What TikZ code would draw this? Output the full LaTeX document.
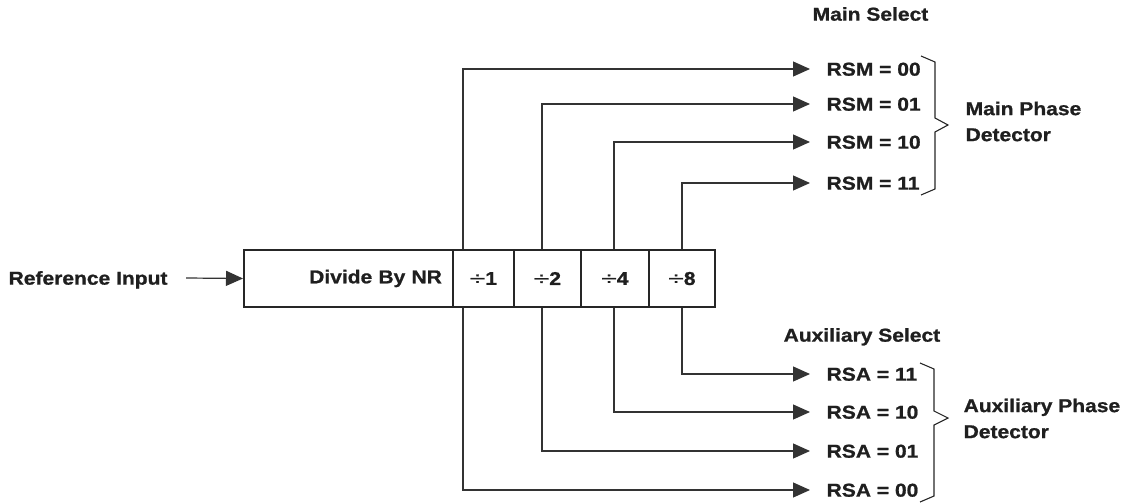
\documentclass[tikz,border=0pt]{standalone}
\usepackage{fontspec}
\setmainfont{Liberation Sans}[FakeStretch=1.13]
\newfontfamily\heavyfont{Liberation Sans}[FakeStretch=1.13,FakeBold=1,BoldFont={Liberation Sans Bold},BoldFeatures={FakeStretch=1.13,FakeBold=1}]
\usetikzlibrary{arrows.meta}
\begin{document}
\begin{tikzpicture}[x=1pt,y=-1pt,
  line width=1.3pt,
  txt/.style={font=\fontsize{18.6}{26}\selectfont\heavyfont\bfseries, text=black!88, inner sep=0pt, text height=13.3pt, text depth=0pt},
  cell/.style={draw=black!85, line width=1.8pt, minimum height=57pt, inner sep=0pt, text=black!88, font=\fontsize{18.6}{26}\selectfont\heavyfont\bfseries},
  arr/.style={-{Triangle[length=17pt,width=15pt]}, line width=1.2pt, draw=black!80},
  brace/.style={line width=1.1pt, draw=black!85}]
\useasboundingbox (0,0) rectangle (1129,503);
% main box
\node[cell, minimum width=209pt, anchor=west, text width=187pt, align=right] (nr) at (243,278.5) {Divide By NR};
\node[cell, minimum width=61pt, anchor=west] (d1) at (452,278.5) {{\mdseries\scalebox{1.35}[1]{÷}}1};
\node[cell, minimum width=67pt, anchor=west] (d2) at (513,278.5) {{\mdseries\scalebox{1.35}[1]{÷}}2};
\node[cell, minimum width=68pt, anchor=west] (d4) at (580,278.5) {{\mdseries\scalebox{1.35}[1]{÷}}4};
\node[cell, minimum width=66pt, anchor=west] (d8) at (648,278.5) {{\mdseries\scalebox{1.35}[1]{÷}}8};
% input
\node[txt, anchor=west] (ref) at (8,278) {Reference Input};
\draw[arr] ([xshift=18pt]ref.east) -- (nr.west);
% titles
\node[txt, anchor=west] (msel) at (812,14) {Main Select};
\node[txt, anchor=west] (asel) at (783,335) {Auxiliary Select};
% main labels
\node[txt, anchor=west] (m00) at (826,69) {RSM = 00};
\node[txt, anchor=west] (m01) at (826,104) {RSM = 01};
\node[txt, anchor=west] (m10) at (826,142) {RSM = 10};
\node[txt, anchor=west] (m11) at (826,183) {RSM = 11};
% aux labels
\node[txt, anchor=west] (a11) at (826,374) {RSA = 11};
\node[txt, anchor=west] (a10) at (826,412) {RSA = 10};
\node[txt, anchor=west] (a01) at (826,451) {RSA = 01};
\node[txt, anchor=west] (a00) at (826,490) {RSA = 00};
% tap points
\coordinate (t1) at (463,0); \coordinate (t2) at (542,0);
\coordinate (t4) at (614,0); \coordinate (t8) at (682,0);
% main connectors
\draw[arr] (t1 |- d1.north) |- ([xshift=-16pt]m00.west);
\draw[arr] (t2 |- d2.north) |- ([xshift=-16pt]m01.west);
\draw[arr] (t4 |- d4.north) |- ([xshift=-16pt]m10.west);
\draw[arr] (t8 |- d8.north) |- ([xshift=-16pt]m11.west);
% aux connectors
\draw[arr] (t1 |- d1.south) |- ([xshift=-16pt]a00.west);
\draw[arr] (t2 |- d2.south) |- ([xshift=-16pt]a01.west);
\draw[arr] (t4 |- d4.south) |- ([xshift=-16pt]a10.west);
\draw[arr] (t8 |- d8.south) |- ([xshift=-16pt]a11.west);
% braces
\draw[brace] (921,56) -- (935,62) -- (935,118) -- (948,125) -- (935,132) -- (935,189) -- (921,195);
\draw[brace] (920,363) -- (934,369) -- (934,411) -- (948,418) -- (934,425) -- (934,496) -- (920,502);
% detector labels
\node[txt, anchor=north west, align=left, text height=, text depth=] (mpd) at (965,101) {Main Phase\\Detector};
\node[txt, anchor=north west, align=left, text height=, text depth=] (apd) at (963,398) {Auxiliary Phase\\Detector};
\end{tikzpicture}
\end{document}
